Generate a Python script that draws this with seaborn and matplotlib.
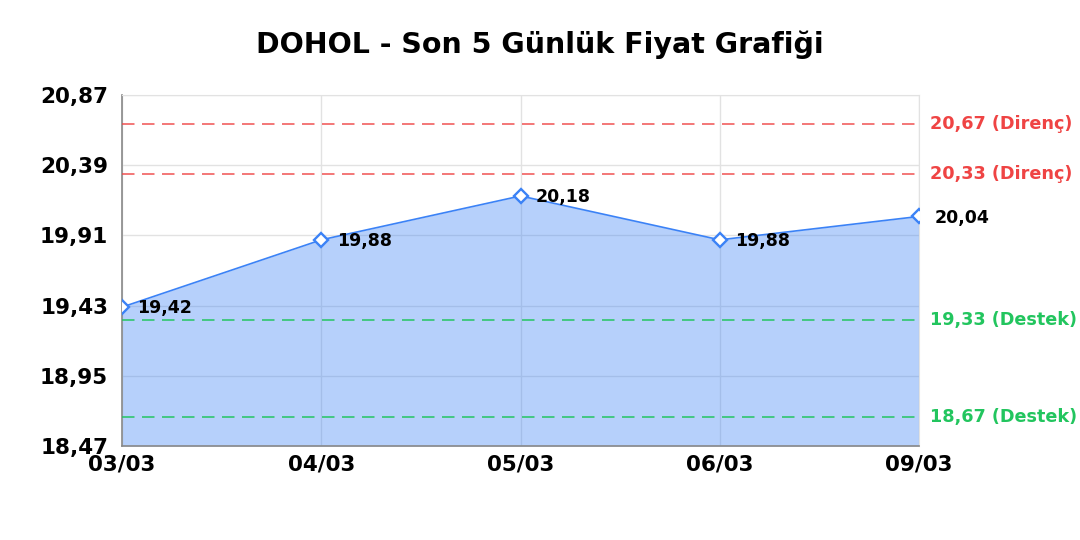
import numpy as np
import pandas as pd
import matplotlib
matplotlib.use("Agg")
import matplotlib.pyplot as plt
import seaborn as sns

# data
dates = ["03/03", "04/03", "05/03", "06/03", "09/03"]
prices = [19.42, 19.88, 20.18, 19.88, 20.04]
resistance = [20.67, 20.33]
support = [19.33, 18.67]
y_ticks = [18.47, 18.95, 19.43, 19.91, 20.39, 20.87]

sns.set_style("white")
plt.rcParams["font.family"] = ["DejaVu Sans"]
plt.rcParams["text.color"] = "black"
plt.rcParams["xtick.color"] = "black"
plt.rcParams["ytick.color"] = "black"

df = pd.DataFrame({"pos": np.arange(len(dates)), "price": prices})

fig = plt.figure(figsize=(10.8, 5.4), dpi=100)
ax = fig.add_axes([0.113, 0.174, 0.738, 0.650])

blue = "#3b82f6"
ax.fill_between(df["pos"], df["price"], y_ticks[0], color=blue, alpha=0.37, lw=0, zorder=2)
sns.lineplot(data=df, x="pos", y="price", ax=ax, color=blue, lw=1.2, marker="D",
             markersize=7, markerfacecolor="white", markeredgecolor=blue,
             markeredgewidth=1.7, zorder=5)

for i, p in enumerate(prices):
    ax.annotate(f"{p:.2f}".replace(".", ","), (i, p), xytext=(11, -1),
                textcoords="offset points", ha="left", va="center",
                fontsize=12.5, fontweight="bold", color="black", zorder=6)

# support / resistance levels
for lvl in resistance:
    ax.axhline(lvl, color="#ef4444", alpha=0.85, lw=1.2, ls=(0, (7.5, 4.5)), zorder=3)
    ax.annotate(f"{lvl:.2f} (Direnç)".replace(".", ","), (1, lvl),
                xycoords=("axes fraction", "data"), xytext=(8, 0),
                textcoords="offset points", va="center", ha="left",
                fontsize=12.7, fontweight="bold", color="#ef4444")
for lvl in support:
    ax.axhline(lvl, color="#22c55e", alpha=0.9, lw=1.2, ls=(0, (7.5, 4.5)), zorder=3)
    ax.annotate(f"{lvl:.2f} (Destek)".replace(".", ","), (1, lvl),
                xycoords=("axes fraction", "data"), xytext=(8, 0),
                textcoords="offset points", va="center", ha="left",
                fontsize=12.7, fontweight="bold", color="#22c55e")

ax.set_xlim(0, len(dates) - 1)
ax.set_ylim(y_ticks[0], y_ticks[-1])
ax.set_xticks(df["pos"])
ax.set_xticklabels(dates)
ax.set_yticks(y_ticks)
ax.set_yticklabels([f"{t:.2f}".replace(".", ",") for t in y_ticks])
ax.tick_params(axis="both", labelsize=15.5, length=0)
ax.tick_params(axis="x", pad=6)
ax.tick_params(axis="y", pad=10)
for lab in ax.get_xticklabels() + ax.get_yticklabels():
    lab.set_fontweight("bold")
ax.set_xlabel("")
ax.set_ylabel("")

ax.grid(True, color="#e2e2e2", lw=1, zorder=1)
ax.set_axisbelow(True)
for side in ["top", "right"]:
    ax.spines[side].set_color("#e2e2e2")
for side in ["left", "bottom"]:
    ax.spines[side].set_color("#888888")
    ax.spines[side].set_linewidth(1.2)

fig.suptitle("DOHOL - Son 5 Günlük Fiyat Grafiği", fontsize=20.5,
             fontweight="bold", y=0.917, va="center", color="black")

fig.savefig("out.png", dpi=100)
